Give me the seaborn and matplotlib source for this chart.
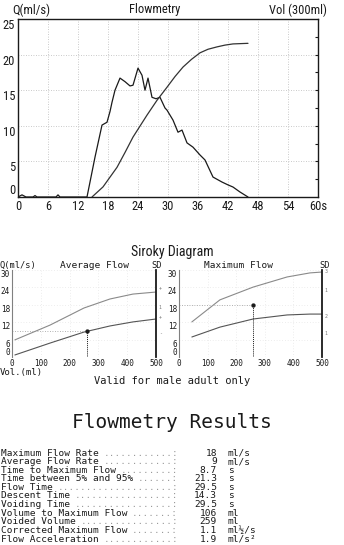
import matplotlib
matplotlib.use("Agg")
import matplotlib.pyplot as plt
import seaborn as sns
from matplotlib import font_manager as fm

# ---------------- data ----------------
flow_t = [0, 0.8, 1.6, 3.0, 3.4, 3.8, 7.6, 8.0, 8.4, 13.8, 15.4, 16.8, 17.8, 18.4,
          18.8, 19.4, 20.4, 21.4, 22.4, 23.0, 24.0, 24.8, 25.4, 26.0, 26.8, 27.6,
          28.4, 29.4, 29.8, 31.0, 32.0, 32.8, 33.8, 35.0, 36.4, 37.4, 39.0, 40.8,
          42.0, 43.0, 44.4, 46.0]
flow_q = [0, 0.3, 0, 0, 0.2, 0, 0, 0.3, 0, 0, 5.6, 10.1, 10.5, 12.0,
          13.3, 15.0, 16.7, 16.2, 15.6, 15.7, 18.1, 17.1, 15.0, 16.7, 14.0, 13.8,
          14.0, 12.5, 12.2, 10.8, 9.1, 9.4, 7.6, 7.0, 5.9, 5.2, 2.8, 2.1,
          1.7, 1.4, 0.7, 0]
vol_t = [14.8, 17.0, 19.8, 21.4, 23.0, 25.8, 27.8, 29.8, 31.4, 33.0, 34.7, 36.4,
         38.0, 39.8, 41.4, 43.0, 46.0]
vol_ml = [0, 17, 50, 75, 101, 138, 163, 185, 203, 219, 232, 243,
          249, 253, 256, 258, 259]

x_ticks = [0, 6, 12, 18, 24, 30, 36, 42, 48, 54, 60]
x_tick_labels = ["0", "6", "12", "18", "24", "30", "36", "42", "48", "54", "60s"]
y_ticks = [0, 5, 10, 15, 20, 25]
vol_ticks = [30, 60, 90, 120, 150, 180, 210, 240, 270]

# Siroky nomogram curves
avg_vol = [10, 132, 250, 340, 420, 500]
avg_upper = [5.9, 11.0, 16.9, 20.0, 21.7, 22.4]
avg_lower = [0.7, 4.8, 8.6, 10.7, 12.1, 13.1]
max_vol = [45, 143, 259, 378, 458, 500]
max_upper = [12.1, 19.7, 24.1, 27.6, 29.0, 29.3]
max_lower = [6.9, 10.3, 13.1, 14.5, 14.8, 14.8]
sir_x_ticks = [0, 100, 200, 300, 400, 500]
sir_y_ticks = [0, 6, 12, 18, 24, 30]
patient_volume = 259
patient_avg = 9
patient_max = 18
sd_left_vals = [24.0, 17.0, 14.0, 8.0]
sd_left_text = ["+", "1", "+", "-"]
sd_right_vals = [29.5, 23.0, 14.0, 8.0]
sd_right_text = ["3", "1", "2", "1"]

res_labels = ["Maximum Flow Rate", "Average Flow Rate", "Time to Maximum Flow",
              "Time between 5% and 95%", "Flow Time", "Descent Time", "Voiding Time",
              "Volume to Maximum Flow", "Voided Volume", "Corrected Maximum Flow",
              "Flow Acceleration"]
res_values = ["18", "9", "8.7", "21.3", "29.5", "14.3", "29.5", "106", "259", "1.1", "1.9"]
res_units = ["ml/s", "ml/s", "s", "s", "s", "s", "s", "ml", "ml", "ml½/s", "ml/s²"]

# ---------------- style ----------------
sns.set_style("white")
plt.rcParams["font.family"] = ["DejaVu Sans"]
names = {f.name for f in fm.fontManager.ttflist}
NARROW = next((n for n in ["Liberation Sans Narrow", "Roboto Condensed", "DejaVu Sans"]
               if n in names), "DejaVu Sans")
MONO = "DejaVu Sans Mono"
INK = "#1a1a1a"

W, H = 344, 545
fig = plt.figure(figsize=(W / 100, H / 100), dpi=100)


def rect(x0, y0, x1, y1):
    return [x0 / W, 1 - y1 / H, (x1 - x0) / W, (y1 - y0) / H]


def ftext(x, y, s, **kw):
    fig.text(x / W, 1 - y / H, s, **kw)


# ---------------- top flowmetry chart ----------------
ax = fig.add_axes(rect(18, 19, 318, 197))
sns.lineplot(x=flow_t, y=flow_q, ax=ax, color=INK, lw=0.9)
ax.set_xlim(0, 60)
ax.set_ylim(0, 25)
ax.set_xticks(x_ticks)
ax.set_xticklabels(x_tick_labels, fontfamily=NARROW, fontsize=9, color=INK)
ax.set_yticks(y_ticks)
ax.set_yticklabels([str(v) for v in y_ticks], fontfamily=NARROW, fontsize=9, color=INK)
for lab in ax.get_yticklabels():
    lab.set_va("bottom" if lab.get_text() == "0" else "top")
ax.tick_params(length=0, pad=2)
ax.grid(True, linestyle=(0, (1, 2)), color="#b8b8b8", lw=0.6)
for sp in ax.spines.values():
    sp.set_visible(True)
    sp.set_color(INK)
    sp.set_linewidth(1.0)
ax.set_xlabel("")
ax.set_ylabel("")

ax2 = ax.twinx()
sns.lineplot(x=vol_t, y=vol_ml, ax=ax2, color="#333333", lw=0.9)
ax2.set_ylim(0, 300)
ax2.set_yticks(vol_ticks)
ax2.set_yticklabels([])
ax2.tick_params(axis="y", direction="in", length=2.5, width=0.8, color=INK, right=True)
ax2.set_ylabel("")
for sp in ax2.spines.values():
    sp.set_visible(False)

ftext(12, 10, "Q(ml/s)", fontfamily=NARROW, fontsize=9, color=INK, ha="left", va="center")
ftext(155, 10, "Flowmetry", fontfamily=NARROW, fontsize=9, color=INK, ha="center", va="center")
ftext(327, 10, "Vol (300ml)", fontfamily=NARROW, fontsize=9, color=INK, ha="right", va="center")

# ---------------- Siroky diagrams ----------------
ftext(172, 252, "Siroky Diagram", fontfamily=NARROW, fontsize=10, color=INK, ha="center", va="center")
ftext(0, 265, "Q(ml/s)", fontfamily=MONO, fontsize=6.3, color=INK, ha="left", va="center")
ftext(95, 265, "Average Flow", fontfamily=MONO, fontsize=6.8, color=INK, ha="center", va="center")
ftext(157, 265, "SD", fontfamily=MONO, fontsize=6.3, color=INK, ha="center", va="center")
ftext(238, 265, "Maximum Flow", fontfamily=MONO, fontsize=6.8, color=INK, ha="center", va="center")
ftext(325, 265, "SD", fontfamily=MONO, fontsize=6.3, color=INK, ha="center", va="center")


def siroky(axs, vol, upper, lower, pval, sd_vals, sd_text):
    sns.lineplot(x=vol, y=upper, ax=axs, color="#8a8a8a", lw=0.8)
    sns.lineplot(x=vol, y=lower, ax=axs, color="#555555", lw=0.8)
    axs.plot([patient_volume, patient_volume], [0, pval], ls=(0, (1, 1)), color=INK, lw=0.7)
    axs.plot([0, patient_volume], [pval, pval], ls=(0, (1, 2)), color="#9a9a9a", lw=0.6)
    sns.scatterplot(x=[patient_volume], y=[pval], ax=axs, color=INK, s=8, edgecolor=INK, zorder=5)
    axs.set_xlim(0, 500)
    axs.set_ylim(0, 30)
    axs.set_xticks(sir_x_ticks)
    axs.set_xticklabels([str(v) for v in sir_x_ticks], fontfamily=MONO, fontsize=5.5, color=INK)
    axs.set_yticks(sir_y_ticks)
    axs.set_yticklabels([str(v) for v in sir_y_ticks], fontfamily=MONO, fontsize=5.5, color=INK)
    for lab in axs.get_yticklabels():
        lab.set_va("bottom" if lab.get_text() == "0" else "top")
    axs.tick_params(length=0, pad=1.5)
    axs.grid(True, linestyle=(0, (1, 3)), color="#dcdcdc", lw=0.5)
    axs.spines["top"].set_visible(False)
    axs.spines["bottom"].set_visible(False)
    axs.spines["left"].set_visible(True)
    axs.spines["left"].set_color("#808080")
    axs.spines["left"].set_linewidth(0.8)
    axs.spines["right"].set_visible(True)
    axs.spines["right"].set_color(INK)
    axs.spines["right"].set_linewidth(1.3)
    axs.set_xlabel("")
    axs.set_ylabel("")
    for v, t in zip(sd_vals, sd_text):
        axs.text(1.03, v, t, transform=axs.get_yaxis_transform(), fontfamily=MONO,
                 fontsize=3.5, color="#777777", ha="center", va="center")


axL = fig.add_axes(rect(12, 270, 156, 357))
siroky(axL, avg_vol, avg_upper, avg_lower, patient_avg, sd_left_vals, sd_left_text)
axR = fig.add_axes(rect(179, 270, 322, 357))
siroky(axR, max_vol, max_upper, max_lower, patient_max, sd_right_vals, sd_right_text)

ftext(0, 373, "Vol.(ml)", fontfamily=MONO, fontsize=6.5, color=INK, ha="left", va="center")
ftext(172, 381, "Valid for male adult only", fontfamily=MONO, fontsize=7.5, color=INK,
      ha="center", va="center")

# ---------------- results table ----------------
ftext(172, 422, "Flowmetry Results", fontfamily=MONO, fontsize=14, color=INK,
      ha="center", va="center")

FS = 6.8
CW = FS * 100 / 72 * 0.602  # monospace advance, px
row0, step = 453, 8.6
for i, (lab, val, unit) in enumerate(zip(res_labels, res_values, res_units)):
    y = row0 + i * step
    ftext(1, y, lab, fontfamily=MONO, fontsize=FS, color=INK, ha="left", va="center")
    n = len(lab) + 1
    leader = "." * (30 - n) + ":"
    ftext(1 + n * CW, y, leader, fontfamily=MONO, fontsize=FS, color="#9a9a9a",
          ha="left", va="center")
    ftext(217, y, val, fontfamily=MONO, fontsize=FS, color=INK, ha="right", va="center")
    ftext(228, y, unit, fontfamily=MONO, fontsize=FS, color=INK, ha="left", va="center")

fig.savefig("out.png", dpi=100, facecolor="white")
